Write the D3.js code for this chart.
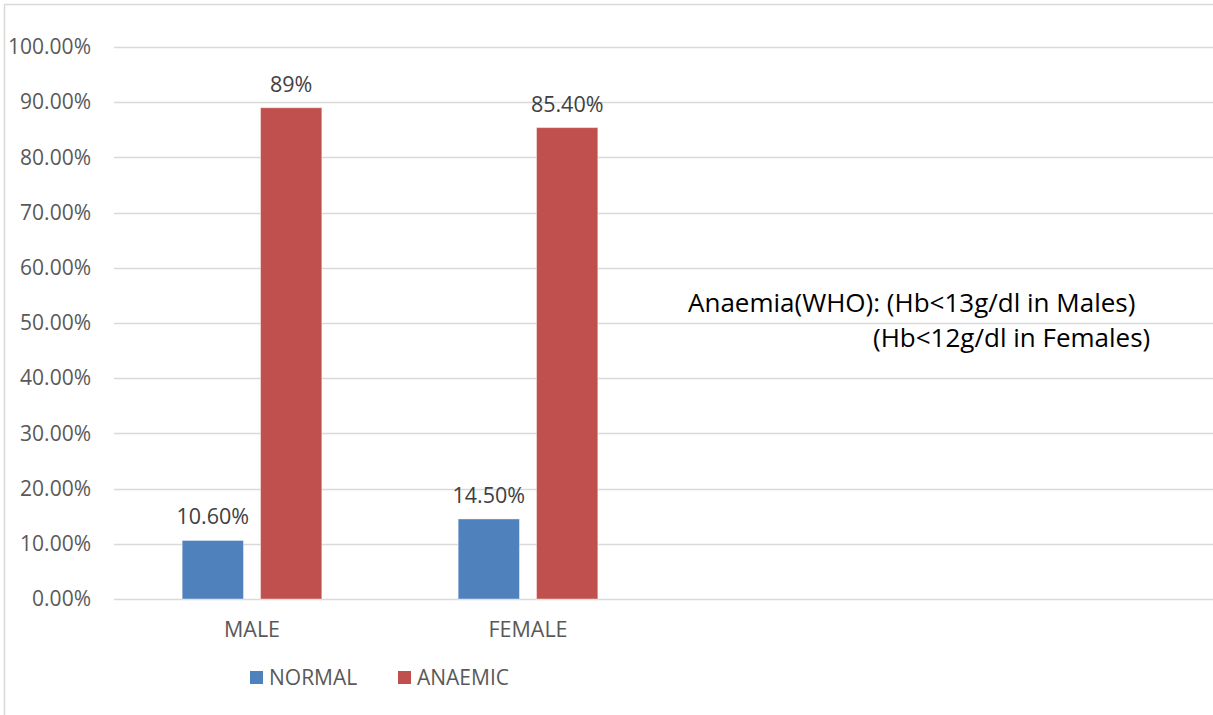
<!DOCTYPE html>
<html>
<head>
<meta charset="utf-8">
<script src="https://cdn.jsdelivr.net/npm/d3@7"></script>
<style>
  html, body { margin: 0; padding: 0; background: #fff; }
  svg { display: block; }
  text { font-family: "Open Sans", "Noto Sans", sans-serif; }
</style>
</head>
<body>
<svg id="chart" width="1213" height="715"></svg>
<script>
// Anaemia prevalence by sex
const categories = ["MALE", "FEMALE"];
const seriesNames = ["NORMAL", "ANAEMIC"];
const normalValues = [0.106, 0.145];
const anaemicValues = [0.89, 0.854];
const normalLabels = ["10.60%", "14.50%"];
const anaemicLabels = ["89%", "85.40%"];
const yTicks = [0, 0.1, 0.2, 0.3, 0.4, 0.5, 0.6, 0.7, 0.8, 0.9, 1.0];
const noteLines = ["Anaemia(WHO): (Hb<13g/dl in Males)", "(Hb<12g/dl in Females)"];
const colors = ["#4F81BD", "#C0504D"];

const svg = d3.select("#chart");
const W = 1213, H = 715;

// outer chart frame
svg.append("rect")
  .attr("x", 4.5).attr("y", 4.5)
  .attr("width", W + 20).attr("height", H + 20)
  .attr("fill", "#fff").attr("stroke", "#D9D9D9").attr("stroke-width", 1.5);

const plot = { left: 114, right: 1213, top: 47, bottom: 599 };
const step = 276;

const y = d3.scaleLinear().domain([0, 1]).range([plot.bottom, plot.top]);
const x0 = d3.scaleBand().domain(categories)
  .range([plot.left, plot.left + step * categories.length])
  .paddingInner(0).paddingOuter(0);
const x1 = d3.scaleBand().domain(seriesNames)
  .range([0, x0.bandwidth()])
  .paddingInner(0.218).paddingOuter(0.87);

// gridlines
svg.append("g")
  .selectAll("line").data(yTicks).join("line")
  .attr("x1", plot.left).attr("x2", plot.right)
  .attr("y1", d => Math.round(y(d)) + 0.5).attr("y2", d => Math.round(y(d)) + 0.5)
  .attr("stroke", "#D9D9D9").attr("stroke-width", 1.5);

// y axis labels
const yAxis = d3.axisLeft(y).tickValues(yTicks)
  .tickFormat(d3.format(".2%")).tickSize(0).tickPadding(0);
const yg = svg.append("g").attr("transform", `translate(${plot.left - 23},0)`).call(yAxis);
yg.select(".domain").remove();
yg.selectAll("text")
  .attr("fill", "#595959").style("font-size", "21px")
  .style("font-family", "'Open Sans', sans-serif");

// bars
const rows = categories.map((c, i) => ({
  cat: c,
  values: [
    { s: seriesNames[0], v: normalValues[i], label: normalLabels[i] },
    { s: seriesNames[1], v: anaemicValues[i], label: anaemicLabels[i] }
  ]
}));
const color = d3.scaleOrdinal().domain(seriesNames).range(colors);

const groups = svg.append("g").selectAll("g").data(rows).join("g")
  .attr("transform", d => `translate(${x0(d.cat)},0)`);

groups.selectAll("rect").data(d => d.values).join("rect")
  .attr("x", d => x1(d.s))
  .attr("y", d => y(d.v))
  .attr("width", x1.bandwidth())
  .attr("height", d => y(0) - y(d.v))
  .attr("fill", d => color(d.s))
  .attr("stroke", "#fff").attr("stroke-opacity", 0.4).attr("stroke-width", 1);

groups.selectAll("text.val").data(d => d.values).join("text")
  .attr("class", "val")
  .attr("x", d => x1(d.s) + x1.bandwidth() / 2)
  .attr("y", d => y(d.v) - 16)
  .attr("text-anchor", "middle")
  .attr("fill", "#404040").style("font-size", "21.5px")
  .text(d => d.label);

// x axis labels
const xAxis = d3.axisBottom(x0).tickSize(0).tickPadding(0);
const xg = svg.append("g").attr("transform", `translate(0,${plot.bottom + 23})`).call(xAxis);
xg.select(".domain").remove();
xg.selectAll("text")
  .attr("fill", "#595959").style("font-size", "21.5px")
  .style("font-family", "'Open Sans', sans-serif");

// legend
const legendX = [250, 398];
const lg = svg.append("g").selectAll("g").data(seriesNames).join("g")
  .attr("transform", (d, i) => `translate(${legendX[i]},671)`);
lg.append("rect").attr("width", 13).attr("height", 13).attr("fill", d => color(d));
lg.append("text").attr("x", 19).attr("y", 14)
  .attr("fill", "#595959").style("font-size", "21px").text(d => d);

// annotation
const note = svg.append("text").attr("fill", "#000").style("font-size", "26px");
note.append("tspan").attr("x", 688).attr("y", 312).text(noteLines[0]);
note.append("tspan").attr("x", 873).attr("y", 347).text(noteLines[1]);
</script>
</body>
</html>
